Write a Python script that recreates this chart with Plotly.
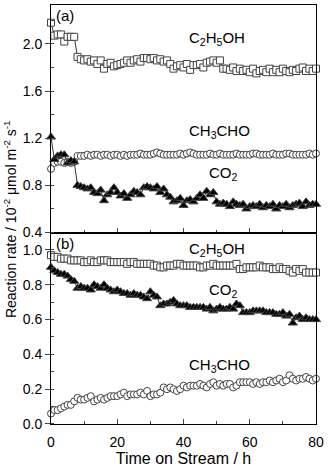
import plotly.graph_objects as go
from plotly.subplots import make_subplots

# time on stream (h)
time_h = list(range(0, 81))

# panel (a)
a_ethanol = [2.18, 2.07, 2.08, 2.08, 2.02, 2.06, 2.06, 2.06, 1.89, 1.87,
             1.86, 1.87, 1.85, 1.86, 1.83, 1.86, 1.79, 1.83, 1.84, 1.81,
             1.82, 1.83, 1.84, 1.86, 1.84, 1.86, 1.87, 1.85, 1.88, 1.88,
             1.87, 1.88, 1.86, 1.87, 1.85, 1.86, 1.83, 1.79, 1.81, 1.82,
             1.80, 1.83, 1.78, 1.82, 1.82, 1.83, 1.80, 1.84, 1.85, 1.86,
             1.84, 1.86, 1.79, 1.79, 1.78, 1.80, 1.77, 1.79, 1.77, 1.78,
             1.76, 1.79, 1.75, 1.77, 1.78, 1.76, 1.79, 1.76, 1.78, 1.76,
             1.79, 1.77, 1.76, 1.78, 1.77, 1.79, 1.80, 1.77, 1.79, 1.77, 1.79]
a_acetaldehyde = [0.94, 0.99, 1.00, 1.00, 0.99, 1.00, 0.99, 1.00, 1.05, 1.05,
                  1.05, 1.06, 1.05, 1.06, 1.06, 1.05, 1.06, 1.06, 1.05, 1.06,
                  1.06, 1.05, 1.06, 1.05, 1.06, 1.06, 1.06, 1.07, 1.06, 1.06,
                  1.06, 1.07, 1.08, 1.07, 1.06, 1.06, 1.06, 1.06, 1.06, 1.07,
                  1.06, 1.07, 1.08, 1.07, 1.06, 1.06, 1.06, 1.06, 1.07, 1.06,
                  1.06, 1.07, 1.06, 1.06, 1.06, 1.06, 1.07, 1.06, 1.06, 1.06,
                  1.06, 1.07, 1.07, 1.06, 1.06, 1.06, 1.06, 1.07, 1.06, 1.06,
                  1.06, 1.07, 1.07, 1.06, 1.06, 1.06, 1.06, 1.06, 1.07, 1.06, 1.07]
a_co2 = [1.21, 1.02, 1.05, 1.06, 1.06, 0.99, 1.01, 1.00, 0.80, 0.79,
         0.78, 0.77, 0.78, 0.74, 0.73, 0.76, 0.67, 0.72, 0.74, 0.78,
         0.74, 0.71, 0.73, 0.69, 0.72, 0.75, 0.74, 0.72, 0.78, 0.79,
         0.78, 0.77, 0.79, 0.74, 0.77, 0.72, 0.70, 0.66, 0.67, 0.69,
         0.63, 0.67, 0.68, 0.66, 0.69, 0.72, 0.69, 0.75, 0.72, 0.74,
         0.66, 0.64, 0.65, 0.64, 0.62, 0.66, 0.64, 0.63, 0.64, 0.60,
         0.62, 0.63, 0.62, 0.64, 0.61, 0.63, 0.62, 0.64, 0.60, 0.63,
         0.62, 0.64, 0.61, 0.63, 0.64, 0.65, 0.62, 0.66, 0.63, 0.64, 0.64]

# panel (b)
b_ethanol = [0.97, 0.96, 0.96, 0.95, 0.95, 0.95, 0.94, 0.94, 0.94, 0.94,
             0.93, 0.93, 0.94, 0.93, 0.93, 0.94, 0.94, 0.94, 0.93, 0.93,
             0.93, 0.93, 0.93, 0.92, 0.93, 0.93, 0.92, 0.92, 0.92, 0.92,
             0.92, 0.91, 0.91, 0.90, 0.90, 0.91, 0.91, 0.91, 0.92, 0.92,
             0.91, 0.91, 0.91, 0.91, 0.91, 0.90, 0.90, 0.91, 0.91, 0.92,
             0.91, 0.91, 0.91, 0.91, 0.91, 0.91, 0.92, 0.89, 0.89, 0.90,
             0.90, 0.90, 0.90, 0.91, 0.90, 0.90, 0.90, 0.89, 0.89, 0.90,
             0.89, 0.89, 0.88, 0.87, 0.89, 0.88, 0.89, 0.87, 0.87, 0.87, 0.87]
b_co2 = [0.90, 0.88, 0.87, 0.86, 0.86, 0.85, 0.83, 0.82, 0.78, 0.79,
         0.78, 0.78, 0.77, 0.80, 0.79, 0.78, 0.80, 0.78, 0.77, 0.76,
         0.77, 0.76, 0.75, 0.75, 0.74, 0.75, 0.74, 0.74, 0.73, 0.72,
         0.76, 0.74, 0.73, 0.68, 0.69, 0.69, 0.70, 0.71, 0.69, 0.68,
         0.68, 0.68, 0.67, 0.67, 0.67, 0.67, 0.67, 0.66, 0.67, 0.65,
         0.66, 0.67, 0.66, 0.66, 0.67, 0.66, 0.69, 0.68, 0.64, 0.64,
         0.64, 0.65, 0.65, 0.65, 0.65, 0.64, 0.64, 0.64, 0.63, 0.63,
         0.64, 0.62, 0.63, 0.58, 0.61, 0.62, 0.60, 0.61, 0.60, 0.60, 0.60]
b_acetaldehyde = [0.06, 0.08, 0.08, 0.09, 0.10, 0.11, 0.11, 0.13, 0.15, 0.14,
                  0.14, 0.15, 0.16, 0.13, 0.14, 0.15, 0.14, 0.15, 0.16, 0.16,
                  0.16, 0.17, 0.18, 0.16, 0.17, 0.17, 0.17, 0.18, 0.17, 0.19,
                  0.16, 0.17, 0.17, 0.18, 0.21, 0.20, 0.21, 0.20, 0.19, 0.20,
                  0.22, 0.21, 0.22, 0.22, 0.22, 0.23, 0.22, 0.21, 0.23, 0.24,
                  0.22, 0.23, 0.22, 0.23, 0.23, 0.21, 0.22, 0.24, 0.24, 0.24,
                  0.24, 0.23, 0.24, 0.23, 0.24, 0.24, 0.25, 0.24, 0.25, 0.26,
                  0.24, 0.25, 0.28, 0.26, 0.25, 0.26, 0.26, 0.27, 0.26, 0.25, 0.26]

FONT = "Liberation Sans, Arial, sans-serif"

fig = make_subplots(rows=2, cols=1, shared_xaxes=True, vertical_spacing=0,
                    row_heights=[0.543, 0.457])


def add_series(y, row, symbol, fill, size):
    fig.add_trace(go.Scatter(
        x=time_h, y=y, mode='lines+markers',
        line=dict(color='black', width=0.8),
        marker=dict(symbol=symbol, size=size, color=fill,
                    line=dict(color='#444444', width=1)),
        cliponaxis=False, showlegend=False
    ), row=row, col=1)


# panel (a)
add_series(a_ethanol, 1, 'square', 'white', 7)
add_series(a_acetaldehyde, 1, 'circle', 'white', 7)
add_series(a_co2, 1, 'triangle-up', 'black', 8)
# panel (b)
add_series(b_ethanol, 2, 'square', 'white', 7)
add_series(b_co2, 2, 'triangle-up', 'black', 8)
add_series(b_acetaldehyde, 2, 'circle', 'white', 7)

axis_common = dict(showline=True, linecolor='black', linewidth=1, mirror=True,
                   showgrid=False, zeroline=False,
                   tickfont=dict(family=FONT, size=14, color='black'))

fig.update_xaxes(range=[0, 80], dtick=20, ticks='inside', ticklen=5,
                 ticklabelstandoff=5,
                 minor=dict(dtick=10, ticks='inside', ticklen=3), **axis_common)
fig.update_xaxes(showticklabels=False, row=1, col=1)
fig.update_xaxes(title=dict(text='Time on Stream / h', standoff=2,
                            font=dict(family=FONT, size=16, color='black')),
                 row=2, col=1)

fig.update_yaxes(range=[0.4, 2.33], tick0=0.4, dtick=0.4, ticks='outside',
                 ticklen=5, tickformat='.1f',
                 minor=dict(dtick=0.2, ticks='inside', ticklen=3),
                 row=1, col=1, **axis_common)
fig.update_yaxes(range=[0, 1.1], tick0=0, dtick=0.2, ticks='outside',
                 ticklen=5, tickformat='.1f',
                 minor=dict(dtick=0.1, ticks='inside', ticklen=3),
                 row=2, col=1, **axis_common)

lab = dict(showarrow=False, font=dict(family=FONT, size=15, color='black'))
# series labels
fig.add_annotation(x=50, y=2.05, text='C<sub>2</sub>H<sub>5</sub>OH', xref='x', yref='y', **lab)
fig.add_annotation(x=51, y=1.26, text='CH<sub>3</sub>CHO', xref='x', yref='y', **lab)
fig.add_annotation(x=52, y=0.90, text='CO<sub>2</sub>', xref='x', yref='y', **lab)
fig.add_annotation(x=50, y=1.00, text='C<sub>2</sub>H<sub>5</sub>OH', xref='x2', yref='y2', **lab)
fig.add_annotation(x=52, y=0.765, text='CO<sub>2</sub>', xref='x2', yref='y2', **lab)
fig.add_annotation(x=51, y=0.335, text='CH<sub>3</sub>CHO', xref='x2', yref='y2', **lab)

# panel tags
fig.add_annotation(x=0.012, y=1.0, xref='paper', yref='paper', text='(a)',
                   xanchor='left', yanchor='top', **lab)
fig.add_annotation(x=0.012, y=0.456, xref='paper', yref='paper', text='(b)',
                   xanchor='left', yanchor='top', **lab)

# shared y title
fig.add_annotation(x=-0.157, y=0.49, xref='paper', yref='paper', textangle=-90,
                   xanchor='center', yanchor='middle',
                   text='Reaction rate / 10<sup>-2</sup> \u03bcmol m<sup>-2</sup> s<sup>-1</sup>',
                   showarrow=False, font=dict(family=FONT, size=14, color='black'))

fig.update_layout(
    width=328, height=467,
    margin=dict(l=51, r=9, t=4, b=43),
    paper_bgcolor='white', plot_bgcolor='white',
    showlegend=False
)

fig.write_html("out.html", config={'displayModeBar': False},
               post_script="document.body.style.margin='0';")
